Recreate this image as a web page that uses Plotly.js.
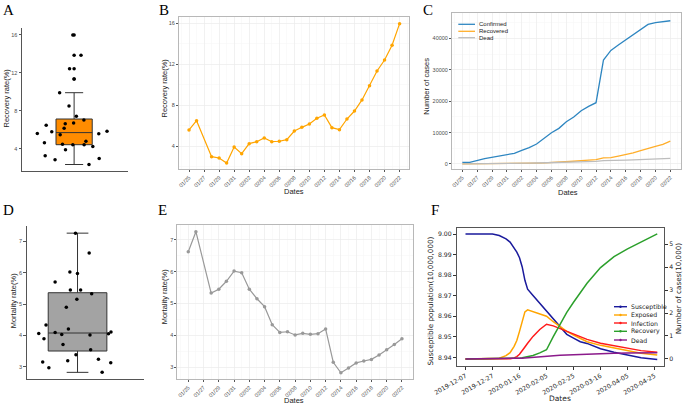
<!DOCTYPE html>
<html>
<head>
<meta charset="utf-8">
<script src="https://cdn.plot.ly/plotly-3.0.1.min.js"></script>
<style>
  body { margin: 0; background: #fff; }
  #chart { width: 685px; height: 405px; }
</style>
</head>
<body>
<div id="chart"></div>
<script>
// Daily dates (01/27 has no record)
const dates = ['2020-01-25','2020-01-26','2020-01-28','2020-01-29','2020-01-30','2020-01-31',
  '2020-02-01','2020-02-02','2020-02-03','2020-02-04','2020-02-05','2020-02-06','2020-02-07',
  '2020-02-08','2020-02-09','2020-02-10','2020-02-11','2020-02-12','2020-02-13','2020-02-14',
  '2020-02-15','2020-02-16','2020-02-17','2020-02-18','2020-02-19','2020-02-20','2020-02-21','2020-02-22'];

const recoveryRate = [5.59, 6.50, 2.99, 2.86, 2.37, 3.93, 3.28, 4.26, 4.45, 4.81, 4.45, 4.49, 4.65,
  5.49, 5.85, 6.18, 6.73, 7.05, 5.82, 5.62, 6.66, 7.44, 8.52, 9.91, 11.35, 12.42, 13.85, 15.96];

const mortalityRate = [6.63, 7.26, 5.33, 5.45, 5.70, 6.02, 5.97, 5.45, 5.15, 4.90, 4.33, 4.09, 4.11,
  4.01, 4.06, 4.03, 4.05, 4.20, 3.15, 2.82, 2.97, 3.13, 3.19, 3.24, 3.38, 3.54, 3.71, 3.89];

const confirmed = [530, 530, 1700, 2120, 2440, 2860, 3400, 4350, 5200, 6370, 8280, 9970, 11350,
  13480, 14960, 16980, 18360, 19520, 33100, 36180, 37880, 39580, 41170, 42870, 44460, 44990, 45200, 45620];
const recovered = [30, 35, 50, 60, 60, 110, 110, 185, 230, 305, 370, 450, 530,
  740, 875, 1050, 1235, 1375, 1925, 2035, 2525, 2945, 3510, 4250, 5045, 5590, 6260, 7280];
const dead = [35, 38, 90, 116, 139, 172, 203, 237, 268, 312, 359, 408, 466,
  541, 607, 684, 744, 820, 1043, 1050, 1125, 1240, 1310, 1390, 1500, 1575, 1680, 1775];

// SEIR model output (panel F)
const fDates = ['2019-12-07','2019-12-17','2019-12-27','2020-01-01','2020-01-06','2020-01-09',
  '2020-01-12','2020-01-14','2020-01-16','2020-01-18','2020-01-20','2020-01-22','2020-01-26',
  '2020-01-31','2020-02-05','2020-02-10','2020-02-15','2020-02-20','2020-02-25','2020-03-01',
  '2020-03-06','2020-03-16','2020-03-26','2020-04-05','2020-04-15','2020-04-27'];
const susceptible = [9.0000, 9.0000, 9.0000, 8.9993, 8.9977, 8.9961, 8.9935, 8.9912, 8.9885, 8.9840,
  8.9775, 8.9732, 8.9701, 8.9663, 8.9624, 8.9586, 8.9547, 8.9512, 8.9494, 8.9476, 8.9468, 8.9442,
  8.9425, 8.9410, 8.9398, 8.9390];
const exposed = [0, 0, 0.01, 0.03, 0.14, 0.27, 0.55, 0.80, 1.20, 1.65, 2.05, 2.14, 2.05, 1.95, 1.86,
  1.62, 1.40, 1.20, 1.04, 0.88, 0.75, 0.59, 0.47, 0.35, 0.25, 0.17];
const infection = [0, 0, 0, 0, 0, 0.01, 0.04, 0.10, 0.20, 0.34, 0.52, 0.68, 0.98, 1.28, 1.51,
  1.44, 1.32, 1.19, 1.06, 0.95, 0.85, 0.68, 0.57, 0.45, 0.36, 0.29];
const recovery = [0, 0, 0, 0, 0, 0, 0.01, 0.02, 0.03, 0.05, 0.07, 0.09, 0.15, 0.26, 0.40,
  0.97, 1.53, 2.03, 2.47, 2.90, 3.30, 3.98, 4.46, 4.80, 5.10, 5.45];
const deadModel = [0, 0, 0, 0, 0, 0, 0, 0.01, 0.02, 0.03, 0.04, 0.05, 0.08, 0.11, 0.13,
  0.145, 0.16, 0.175, 0.19, 0.205, 0.22, 0.24, 0.25, 0.26, 0.265, 0.27];

const W = 685, H = 405;
const px = x => x / W;
const py = y => 1 - y / H;
const DAY = 86400000;

const GG = 'Liberation Sans, Arial, sans-serif';
const MPL = 'DejaVu Sans, sans-serif';
const tickGG = { family: GG, size: 5.5, color: '#4D4D4D' };
const tickMPL = { family: MPL, size: 6.2, color: '#222' };

// ggplot-style boxplot stats (type 7 quantiles, 1.5 IQR whiskers)
function boxStats(vals) {
  const s = vals.slice().sort((a, b) => a - b);
  const q = p => {
    const h = (s.length - 1) * p, lo = Math.floor(h);
    return s[lo] + (h - lo) * (s[Math.min(lo + 1, s.length - 1)] - s[lo]);
  };
  const q1 = q(0.25), med = q(0.5), q3 = q(0.75), iqr = q3 - q1;
  const inside = s.filter(v => v >= q1 - 1.5 * iqr && v <= q3 + 1.5 * iqr);
  return {
    q1, med, q3,
    lf: inside[0], uf: inside[inside.length - 1],
    outliers: s.filter(v => v < q1 - 1.5 * iqr || v > q3 + 1.5 * iqr)
  };
}

function boxPanel(vals, xa, ya, fill, boxW, capW, jitW) {
  const st = boxStats(vals);
  return [
    { type: 'box', orientation: 'v', x: [0], q1: [st.q1], median: [st.med], q3: [st.q3],
      lowerfence: [st.lf], upperfence: [st.uf], width: boxW, whiskerwidth: capW,
      fillcolor: fill, line: { color: '#333', width: 1 }, boxpoints: false,
      xaxis: xa, yaxis: ya, showlegend: false, hoverinfo: 'skip' },
    { type: 'box', y: vals, x0: 0, width: jitW, boxpoints: 'all', jitter: 1, pointpos: 0,
      fillcolor: 'rgba(0,0,0,0)', line: { width: 0, color: 'rgba(0,0,0,0)' },
      marker: { color: '#000', size: 3.5, line: { width: 0 } },
      xaxis: xa, yaxis: ya, showlegend: false, hoverinfo: 'skip' },
    { type: 'scatter', mode: 'markers', x: st.outliers.map(() => 0), y: st.outliers,
      marker: { color: '#000', size: 3.5 }, xaxis: xa, yaxis: ya, showlegend: false, hoverinfo: 'skip' }
  ];
}

const traces = [];
traces.push(...boxPanel(recoveryRate, 'x', 'y', '#FF8C00', 0.41, 0.5, 1.0));

traces.push({ type: 'scatter', mode: 'lines+markers', x: dates, y: recoveryRate,
  line: { color: '#FFA500', width: 1.2 }, marker: { color: '#FFA500', size: 3.5 },
  xaxis: 'x2', yaxis: 'y2', showlegend: false });

const cNames = ['Confirmed', 'Recovered', 'Dead'];
const cColors = ['#2E86C1', '#FFAE2B', '#BDBDBD'];
[confirmed, recovered, dead].forEach((ys, i) => {
  traces.push({ type: 'scatter', mode: 'lines', x: dates, y: ys, name: cNames[i],
    line: { color: cColors[i], width: 1.3 }, xaxis: 'x3', yaxis: 'y3', showlegend: false });
});

traces.push(...boxPanel(mortalityRate, 'x4', 'y4', '#A3A3A3', 0.6, 0.37, 1.0));

traces.push({ type: 'scatter', mode: 'lines+markers', x: dates, y: mortalityRate,
  line: { color: '#999999', width: 1.2 }, marker: { color: '#999999', size: 3.5 },
  xaxis: 'x5', yaxis: 'y5', showlegend: false });

const fNames = ['Susceptible', 'Exposed', 'Infection', 'Recovery', 'Dead'];
const fColors = ['#1A1A9C', '#FFA500', '#FF1A1A', '#2CA02C', '#8B1A8B'];
[susceptible, exposed, infection, recovery, deadModel].forEach((ys, i) => {
  traces.push({ type: 'scatter', mode: 'lines', x: fDates, y: ys, name: fNames[i],
    line: { color: fColors[i], width: 1.5 }, xaxis: 'x6', yaxis: i === 0 ? 'y6' : 'y7',
    showlegend: false });
});

// shared axis styles
const classicX = { showline: true, linecolor: '#555', linewidth: 1, showticklabels: false,
  ticks: '', showgrid: false, zeroline: false, fixedrange: true };
const classicY = { showline: true, linecolor: '#555', linewidth: 1, ticks: 'outside', ticklen: 2.5,
  tickcolor: '#555', showgrid: false, zeroline: false, tickfont: tickGG };
const bwDateX = { type: 'date', tickformat: '%m/%d', tick0: '2020-01-25', dtick: 2 * DAY,
  tickangle: -45, ticks: 'outside', ticklen: 2, tickcolor: '#555', tickfont: tickGG,
  showgrid: true, gridcolor: '#EBEBEB', gridwidth: 0.7,
  minor: { dtick: DAY, showgrid: true, gridcolor: '#F5F5F5', gridwidth: 0.5 },
  showline: true, mirror: true, linecolor: '#B8B8B8', linewidth: 1, zeroline: false };
const bwY = { ticks: 'outside', ticklen: 2, tickcolor: '#555', tickfont: tickGG,
  showgrid: true, gridcolor: '#EBEBEB', gridwidth: 0.7,
  showline: true, mirror: true, linecolor: '#B8B8B8', linewidth: 1, zeroline: false };

const layout = {
  width: W, height: H, margin: { l: 0, r: 0, t: 0, b: 0 },
  paper_bgcolor: '#fff', plot_bgcolor: 'rgba(0,0,0,0)',
  boxmode: 'overlay', showlegend: false,
  xaxis: Object.assign({}, classicX, { domain: [px(22), px(128)], anchor: 'y', range: [-0.59, 0.61] }),
  yaxis: Object.assign({}, classicY, { domain: [py(170.7), py(28.3)], anchor: 'x',
    range: [1.72, 16.67], tickvals: [4, 8, 12, 16] }),
  xaxis2: Object.assign({}, bwDateX, { domain: [px(179), px(409.3)], anchor: 'y2',
    range: ['2020-01-23 16:00', '2020-02-23 07:00'] }),
  yaxis2: Object.assign({}, bwY, { domain: [py(169.3), py(16.7)], anchor: 'x2',
    range: [1.756, 16.64], tick0: 0, dtick: 4,
    minor: { dtick: 2, showgrid: true, gridcolor: '#F5F5F5', gridwidth: 0.5 } }),
  xaxis3: Object.assign({}, bwDateX, { domain: [px(452), px(681)], anchor: 'y3',
    range: ['2020-01-23 14:40', '2020-02-23 10:30'] }),
  yaxis3: Object.assign({}, bwY, { domain: [py(169.3), py(13.3)], anchor: 'x3',
    range: [-1690, 47990], tick0: 0, dtick: 10000, tickformat: 'd',
    minor: { dtick: 5000, showgrid: true, gridcolor: '#F5F5F5', gridwidth: 0.5 } }),
  xaxis4: Object.assign({}, classicX, { domain: [px(26.7), px(144)], anchor: 'y4', range: [-0.52, 0.68] }),
  yaxis4: Object.assign({}, classicY, { domain: [py(379), py(226)], anchor: 'x4',
    range: [2.608, 7.488], dtick: 1 }),
  xaxis5: Object.assign({}, bwDateX, { domain: [px(177.3), px(412.7)], anchor: 'y5',
    range: ['2020-01-23 13:30', '2020-02-23 09:50'] }),
  yaxis5: Object.assign({}, bwY, { domain: [py(379.3), py(225)], anchor: 'x5',
    range: [2.613, 7.472], dtick: 1,
    minor: { dtick: 0.5, showgrid: true, gridcolor: '#F5F5F5', gridwidth: 0.5 } }),
  xaxis6: { domain: [px(457), px(664)], anchor: 'y6', type: 'date',
    range: ['2019-11-30 17:00', '2020-05-02 00:00'], tick0: '2019-12-07', dtick: 20 * DAY,
    tickformat: '%Y-%m-%d', tickangle: -30, ticks: 'outside', ticklen: 3, tickcolor: '#333',
    tickfont: tickMPL, showgrid: false, zeroline: false,
    showline: true, mirror: true, linecolor: '#555', linewidth: 1 },
  yaxis6: { domain: [py(366), py(227.7)], anchor: 'x6', range: [8.9358, 9.0031],
    tick0: 8.94, dtick: 0.01, tickformat: '.2f', ticks: 'outside', ticklen: 3, tickcolor: '#333',
    tickfont: tickMPL, showgrid: false, zeroline: false,
    showline: true, mirror: true, linecolor: '#555', linewidth: 1 },
  yaxis7: { overlaying: 'y6', side: 'right', anchor: 'x6', range: [-0.31, 5.72],
    tick0: 0, dtick: 1, ticks: 'outside', ticklen: 3, tickcolor: '#333',
    tickfont: tickMPL, showgrid: false, zeroline: false, showline: false },
  annotations: [],
  shapes: []
};

function label(text, x, y, opts) {
  layout.annotations.push(Object.assign({ text, x: px(x), y: py(y), xref: 'paper', yref: 'paper',
    xanchor: 'center', yanchor: 'middle', showarrow: false,
    font: { family: GG, size: 7.5, color: '#222' } }, opts || {}));
}

// panel letters
const serif = { family: 'Liberation Serif, Times New Roman, serif', size: 15, color: '#000' };
[['A', 1, 0], ['B', 156.5, 0], ['C', 420.5, 0], ['D', 1, 200], ['E', 156, 200], ['F', 428.5, 200]]
  .forEach(([t, x, y]) => label(t, x, y, { xanchor: 'left', yanchor: 'top', font: serif }));

// axis titles
label('Recovery rate(%)', 5.5, 98, { textangle: -90 });
label('Recovery rate(%)', 164.5, 88, { textangle: -90 });
label('Dates', 294, 191.5);
label('Number of cases', 425.7, 86, { textangle: -90 });
label('Dates', 568, 192.5);
label('Mortality rate(%)', 13.3, 300, { textangle: -90 });
label('Mortality rate(%)', 164.3, 296, { textangle: -90 });
label('Dates', 294, 400.5);
label('Susceptible population(10,000,000)', 430, 301.5,
  { textangle: -90, font: { family: MPL, size: 7.2, color: '#222' } });
label('Number of cases(10,000)', 678.3, 288,
  { textangle: -90, font: { family: MPL, size: 7.2, color: '#222' } });
label('Dates', 560, 398, { font: { family: MPL, size: 7.5, color: '#222' } });

// legend of panel C
const cLegY = [24.3, 31.3, 37.7];
cNames.forEach((n, i) => {
  layout.shapes.push({ type: 'line', xref: 'paper', yref: 'paper', x0: px(458.3), x1: px(475),
    y0: py(cLegY[i]), y1: py(cLegY[i]), line: { color: cColors[i], width: 1.3 } });
  label(n, 477, cLegY[i], { xanchor: 'left', font: { family: GG, size: 6, color: '#222' } });
});

// legend of panel F
const fLegY = [306.7, 315, 323, 331.3, 340];
fNames.forEach((n, i) => {
  layout.shapes.push({ type: 'line', xref: 'paper', yref: 'paper', x0: px(614), x1: px(627),
    y0: py(fLegY[i]), y1: py(fLegY[i]), line: { color: fColors[i], width: 1.4 } });
  layout.shapes.push({ type: 'circle', xref: 'paper', yref: 'paper',
    x0: px(619.3), x1: px(621.7), y0: py(fLegY[i] - 1.2), y1: py(fLegY[i] + 1.2),
    fillcolor: fColors[i], line: { width: 0 } });
  label(n, 629, fLegY[i], { xanchor: 'left', font: { family: MPL, size: 6.2, color: '#222' } });
});

Plotly.newPlot('chart', traces, layout, { displayModeBar: false, staticPlot: true });
</script>
</body>
</html>
